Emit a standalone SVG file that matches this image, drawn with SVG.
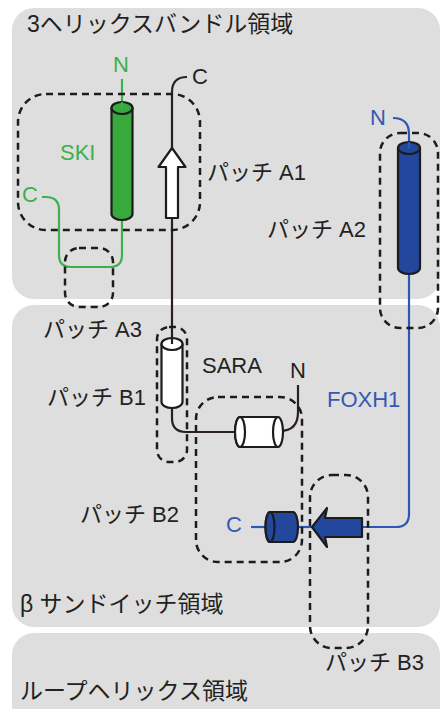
<svg xmlns="http://www.w3.org/2000/svg" width="441" height="709" viewBox="0 0 441 709">
  <style>
    .panel { fill: #dedede; stroke: none; }
    .title { font-family: "Liberation Sans", "Noto Sans CJK JP", sans-serif; font-size: 23px; fill: #222; }
    .lbl { font-family: "Liberation Sans", "Noto Sans CJK JP", sans-serif; font-size: 22px; fill: #222; }
    .patch { fill: none; stroke: #1c1c1c; stroke-width: 2.5; stroke-dasharray: 7 5; }
    .ol { stroke: #1c1c1c; stroke-width: 2.2; stroke-linejoin: round; }
    .g { fill: #38aa3c; }
    .gtxt { fill: #3db04a; }
    .b { fill: #24479e; }
    .btxt { fill: #3559b3; }
    .w { fill: #ffffff; }
    .lk { fill: none; stroke: #2a201d; stroke-width: 2.2; stroke-linecap: butt; }
    .lg { fill: none; stroke: #3db04a; stroke-width: 2.2; }
    .lb { fill: none; stroke: #2d56b5; stroke-width: 2.2; }
  </style>

  <g id="regions">
    <g id="region-3helix">
      <rect class="panel" x="12" y="8" width="428" height="291" rx="22"/>
      <text class="title" x="27" y="32">3ヘリックスバンドル領域</text>
    </g>
    <g id="region-beta">
      <rect class="panel" x="12" y="305" width="428" height="322" rx="22"/>
      <text class="title" x="20" y="612">β サンドイッチ領域</text>
    </g>
    <g id="region-loop">
      <rect class="panel" x="12" y="633" width="428" height="110" rx="22"/>
      <text class="title" x="20" y="699">ループヘリックス領域</text>
    </g>
  </g>

  <g id="connectors">
    <!-- SKI -->
    <path class="lg" d="M122,79 L122,108"/>
    <path class="lg" d="M122,219 L122,255 Q122,267 110,267 L71,267 Q59,267 59,255 L59,210 Q59,197 46,197 L42,197"/>
    <!-- SARA -->
    <path class="lk" d="M187,77 Q172,77 172,92 L172,150"/>
    <path class="lk" d="M172,216 L172,344"/>
    <path class="lk" d="M172,407 L172,418 Q172,432 186,432 L240,432"/>
    <path class="lk" d="M298,385 L298,412 Q298,431 280,431"/>
    <!-- FOXH1 -->
    <path class="lb" d="M393,118 Q409,118 409,134 L409,148"/>
    <path class="lb" d="M409,273 L409,514 Q409,527 396,527 L360,527"/>
    <path class="lb" d="M314,527 L296,527"/>
    <path class="lb" d="M251,527 L270,527"/>
  </g>

  <g id="ski">
    <g id="ski-helix">
      <path class="g ol" d="M111.5,108 L111.5,214 A10.5,6 0 0 0 132.5,214 L132.5,108 Z"/>
      <ellipse class="g ol" cx="122" cy="108" rx="10.5" ry="6"/>
    </g>
    <text class="lbl gtxt" x="113" y="72">N</text>
    <text class="lbl gtxt" x="60" y="160">SKI</text>
    <text class="lbl gtxt" x="22" y="202">C</text>
    <path class="lg" d="M122,102 L122,108"/>
  </g>

  <g id="sara">
    <g id="sara-strand">
      <polygon class="w ol" points="172,148 185.5,167 178,167 178,218 166,218 166,167 158.5,167"/>
    </g>
    <g id="sara-helix1">
      <path class="w ol" d="M161.5,344 L161.5,402 A10.5,6 0 0 0 182.5,402 L182.5,344 Z"/>
      <ellipse class="w ol" cx="172" cy="344" rx="10.5" ry="6"/>
      <path class="lk" d="M172,338 L172,344"/>
    </g>
    <g id="sara-helix2">
      <path class="w ol" d="M240,417 L278,417 A5,15 0 0 1 278,447 L240,447 A5,15 0 0 1 240,417 Z"/>
      <ellipse class="w ol" cx="240" cy="432" rx="5" ry="15"/>
      <path class="ol" fill="none" d="M278,417 A5,15 0 0 0 278,447"/>
    </g>
    <text class="lbl" x="192" y="84">C</text>
    <text class="lbl" x="202" y="373">SARA</text>
    <text class="lbl" x="290" y="378">N</text>
  </g>

  <g id="foxh1">
    <g id="foxh1-helix1">
      <path class="b ol" d="M398,148 L398,268 A11,6 0 0 0 420,268 L420,148 Z"/>
      <ellipse class="b ol" cx="409" cy="148" rx="11" ry="6"/>
      <path class="lb" d="M409,142 L409,148"/>
    </g>
    <g id="foxh1-helix2">
      <path class="b ol" d="M270,512 L293,512 A5,15 0 0 1 293,542 L270,542 A4.5,15 0 0 1 270,512 Z"/>
      <ellipse class="b ol" cx="270" cy="527" rx="4.5" ry="15"/>
    </g>
    <g id="foxh1-strand">
      <polygon class="b ol" points="312,527 327,508 325,518 362,518 362,537 325,537 327,547"/>
    </g>
    <text class="lbl btxt" x="370" y="125">N</text>
    <text class="lbl btxt" x="327" y="407">FOXH1</text>
    <text class="lbl btxt" x="226" y="532">C</text>
  </g>

  <g id="patches">
    <g id="patch-a1">
      <rect class="patch" x="18" y="94" width="182" height="136" rx="28"/>
      <text class="lbl" x="207" y="180">パッチ A1</text>
    </g>
    <g id="patch-a2">
      <rect class="patch" x="380" y="133" width="58" height="195" rx="20"/>
      <text class="lbl" x="267" y="237">パッチ A2</text>
    </g>
    <g id="patch-a3">
      <rect class="patch" x="65" y="248" width="48" height="59" rx="14"/>
      <text class="lbl" x="43" y="337">パッチ A3</text>
    </g>
    <g id="patch-b1">
      <rect class="patch" x="157" y="327" width="30" height="135" rx="12"/>
      <text class="lbl" x="47" y="405">パッチ B1</text>
    </g>
    <g id="patch-b2">
      <rect class="patch" x="196" y="397" width="106" height="165" rx="22"/>
      <text class="lbl" x="80" y="522">パッチ B2</text>
    </g>
    <g id="patch-b3">
      <rect class="patch" x="310" y="475" width="58" height="173" rx="22"/>
      <text class="lbl" x="325" y="670">パッチ B3</text>
    </g>
  </g>
</svg>
